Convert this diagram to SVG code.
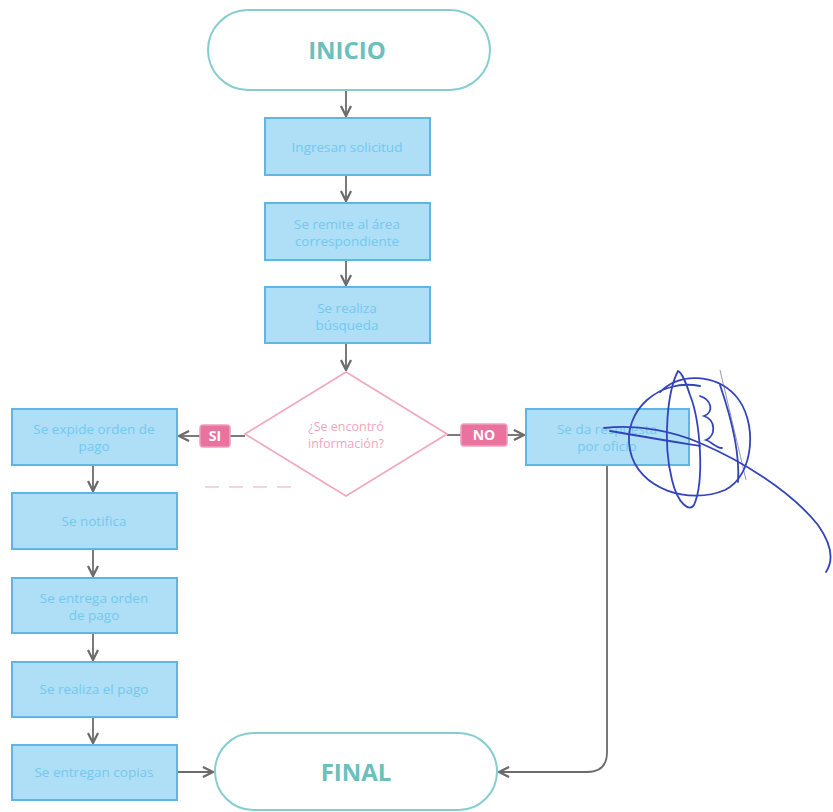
<svg xmlns="http://www.w3.org/2000/svg" width="833" height="812" viewBox="0 0 833 812">
  <style>
    .term { fill: #ffffff; stroke: #86cdd0; stroke-width: 2; }
    .term-text { font-family: "Open Sans", "Noto Sans", sans-serif; font-weight: 700; font-size: 24px; fill: #6cc0bb; text-anchor: middle; }
    .box { fill: #aedff6; stroke: #5fb6e3; stroke-width: 2; }
    .box-text { font-family: "Open Sans", "Noto Sans", sans-serif; font-size: 13.5px; fill: #74c8ee; text-anchor: middle; }
    .dec { fill: #ffffff; stroke: #f2a9bf; stroke-width: 1.8; }
    .dec-text { font-family: "Open Sans", "Noto Sans", sans-serif; font-size: 12.5px; fill: #f0a6bf; text-anchor: middle; }
    .tag { fill: #e9739e; stroke: #f0a0bd; stroke-width: 1.5; }
    .tag-text { font-family: "Open Sans", "Noto Sans", sans-serif; font-weight: 700; font-size: 14px; fill: #ffffff; text-anchor: middle; }
    .link { fill: none; stroke: #6b6b6b; stroke-width: 1.8; }
    .ink { fill: none; stroke: #3344bb; stroke-width: 1.8; stroke-linecap: round; }
  </style>
  <defs>
    <marker id="arrow" viewBox="0 0 10 10" refX="9" refY="5" markerWidth="7" markerHeight="7" orient="auto">
      <path d="M1,1 L9,5 L1,9" fill="none" stroke="#6b6b6b" stroke-width="1.8"/>
    </marker>
  </defs>

  <rect width="833" height="812" fill="#ffffff"/>

  <!-- connectors -->
  <g id="connectors">
    <line class="link" x1="346" y1="91" x2="346" y2="116" marker-end="url(#arrow)"/>
    <line class="link" x1="346" y1="176" x2="346" y2="201" marker-end="url(#arrow)"/>
    <line class="link" x1="346" y1="261" x2="346" y2="285" marker-end="url(#arrow)"/>
    <line class="link" x1="346" y1="344" x2="346" y2="370" marker-end="url(#arrow)"/>
    <line class="link" x1="245" y1="436" x2="230" y2="436"/>
    <line class="link" x1="200" y1="436" x2="179" y2="436" marker-end="url(#arrow)"/>
    <line class="link" x1="447" y1="435" x2="461" y2="435"/>
    <line class="link" x1="507" y1="435" x2="524" y2="435" marker-end="url(#arrow)"/>
    <line class="link" x1="93" y1="466" x2="93" y2="491" marker-end="url(#arrow)"/>
    <line class="link" x1="93" y1="550" x2="93" y2="576" marker-end="url(#arrow)"/>
    <line class="link" x1="93" y1="634" x2="93" y2="660" marker-end="url(#arrow)"/>
    <line class="link" x1="93" y1="718" x2="93" y2="743" marker-end="url(#arrow)"/>
    <line class="link" x1="178" y1="772" x2="213" y2="772" marker-end="url(#arrow)"/>
    <path class="link" d="M607,466 V752 Q607,772 587,772 H499" marker-end="url(#arrow)"/>
  </g>

  <!-- start -->
  <g id="inicio">
    <rect class="term" x="208" y="10" width="282" height="80" rx="40"/>
    <text class="term-text" x="347" y="59">INICIO</text>
  </g>

  <g id="ingresan">
    <rect class="box" x="265" y="118" width="165" height="57"/>
    <text class="box-text" x="347" y="152">Ingresan solicitud</text>
  </g>

  <g id="remite">
    <rect class="box" x="265" y="203" width="165" height="57"/>
    <text class="box-text" x="347" y="229">Se remite al área</text>
    <text class="box-text" x="347" y="246">correspondiente</text>
  </g>

  <g id="busqueda">
    <rect class="box" x="265" y="287" width="165" height="56"/>
    <text class="box-text" x="347" y="313">Se realiza</text>
    <text class="box-text" x="347" y="330">búsqueda</text>
  </g>

  <!-- decision -->
  <g id="decision">
    <polygon class="dec" points="346,372 447,434 346,496 245,434"/>
    <text class="dec-text" x="346" y="431">¿Se encontró</text>
    <text class="dec-text" x="346" y="448">información?</text>
  </g>
  <line x1="205" y1="487" x2="300" y2="487" stroke="#f0b0bf" stroke-width="1.5" stroke-dasharray="14 10" opacity="0.7"/>

  <g id="tag-si">
    <rect class="tag" x="200" y="425" width="30" height="22" rx="3"/>
    <text class="tag-text" x="215" y="441">SI</text>
  </g>

  <g id="tag-no">
    <rect class="tag" x="461" y="424" width="46" height="22" rx="3"/>
    <text class="tag-text" x="484" y="440">NO</text>
  </g>

  <g id="expide">
    <rect class="box" x="12" y="409" width="165" height="56"/>
    <text class="box-text" x="94" y="434">Se expide orden de</text>
    <text class="box-text" x="94" y="451">pago</text>
  </g>

  <g id="respuesta">
    <rect class="box" x="526" y="409" width="163" height="56"/>
    <text class="box-text" x="607" y="434">Se da respuesta</text>
    <text class="box-text" x="607" y="451">por oficio</text>
  </g>

  <g id="notifica">
    <rect class="box" x="12" y="493" width="165" height="56"/>
    <text class="box-text" x="94" y="526">Se notifica</text>
  </g>

  <g id="entrega-orden">
    <rect class="box" x="12" y="578" width="165" height="55"/>
    <text class="box-text" x="94" y="603">Se entrega orden</text>
    <text class="box-text" x="94" y="620">de pago</text>
  </g>

  <g id="pago">
    <rect class="box" x="12" y="662" width="165" height="55"/>
    <text class="box-text" x="94" y="694">Se realiza el pago</text>
  </g>

  <g id="copias">
    <rect class="box" x="12" y="745" width="165" height="55"/>
    <text class="box-text" x="94" y="777">Se entregan copias</text>
  </g>

  <!-- end -->
  <g id="final">
    <rect class="term" x="215" y="733" width="282" height="77" rx="38.5"/>
    <text class="term-text" x="356" y="781">FINAL</text>
  </g>

  <!-- handwritten signature -->
  <g id="firma">
    <line x1="720" y1="370" x2="746" y2="480" stroke="#7a7aa8" stroke-width="0.8"/>
    <path class="ink" d="M700,386 C660,378 622,410 630,450 C638,490 690,505 725,490 C755,475 758,420 735,395 C715,374 680,372 660,392"/>
    <path class="ink" d="M678,371 C668,390 662,440 672,480 C678,505 690,512 694,505 C705,480 700,420 690,395 C686,382 681,372 678,371"/>
    <path class="ink" d="M700,396 C712,400 714,412 704,416 C716,420 716,436 706,440 C712,442 716,448 722,448"/>
    <path class="ink" d="M604,428 C640,424 675,432 700,443 C740,460 790,490 818,525 C832,545 834,560 826,572"/>
    <path class="ink" d="M610,431 C650,438 688,444 700,446"/>
    <path class="ink" d="M720,385 C732,420 740,455 738,482"/>
  </g>
</svg>
